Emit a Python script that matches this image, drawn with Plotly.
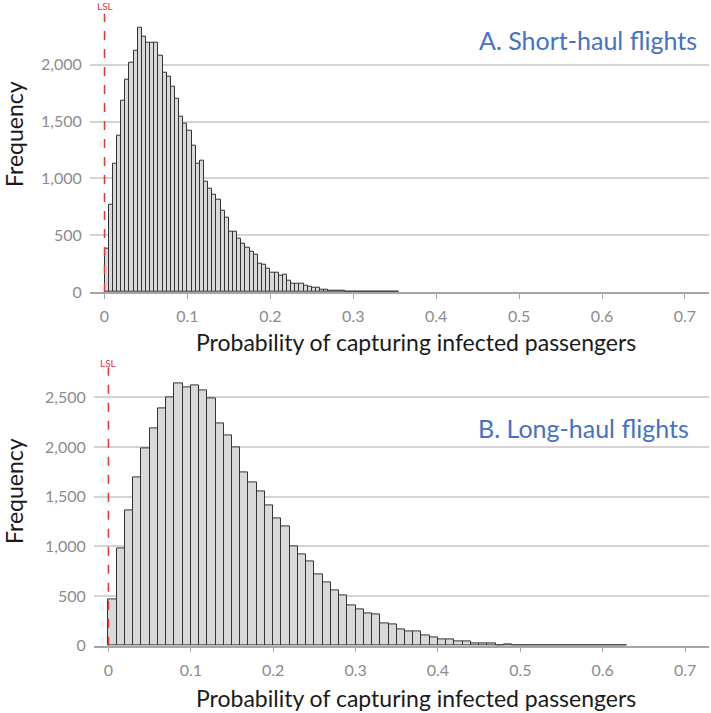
import plotly.graph_objects as go

# ---------- data ----------
# A. Short-haul flights: bins of width 0.005 starting at 0
short_bin_width = 0.005
short_counts = [384, 765, 1132, 1378, 1686, 1865, 2018, 2126, 2331, 2246,
                2196, 2199, 2193, 2076, 1927, 1897, 1803, 1698, 1540, 1480,
                1422, 1285, 1132, 1160, 970, 910, 861, 811, 720, 651,
                534, 534, 465, 427, 390, 357, 326, 248, 238, 208,
                166, 166, 141, 150, 96, 76, 72, 73, 53, 45,
                42, 39, 22, 19, 15, 13, 10, 8, 7, 6,
                5, 4, 4, 3, 3, 2, 2, 2, 1, 2, 2]

# B. Long-haul flights: bins of width 0.01 starting at 0
long_bin_width = 0.01
long_counts = [462, 979, 1357, 1696, 1984, 2185, 2389, 2503, 2641, 2594,
               2614, 2567, 2493, 2232, 2111, 1994, 1746, 1645, 1548, 1411,
               1277, 1196, 995, 915, 851, 720, 637, 553, 510, 402,
               368, 330, 310, 228, 211, 167, 143, 143, 105, 82,
               68, 65, 48, 41, 27, 24, 20, 8, 12, 4,
               3, 3, 2, 2, 2, 1, 1, 1, 1, 2, 2, 2, 6]

x_ticks = [0, 0.1, 0.2, 0.3, 0.4, 0.5, 0.6, 0.7]
x_tick_text = ["0", "0.1", "0.2", "0.3", "0.4", "0.5", "0.6", "0.7"]
top_y_ticks = [0, 500, 1000, 1500, 2000]
bottom_y_ticks = [0, 500, 1000, 1500, 2000, 2500]

x_title = "Probability of capturing infected passengers"
y_title = "Frequency"
title_a = "A. Short-haul flights"
title_b = "B. Long-haul flights"
lsl_label = "LSL"

# ---------- figure ----------
W, H = 711, 713
FONT = "Lato, 'Open Sans', sans-serif"
BAR_FILL = "#d9d9d9"
BAR_LINE = "#333333"
GRID = "#d4d4d4"
AXIS = "#a6a6a6"
TICKFONT = dict(family=FONT, size=16, color="#8c8c8c")
RED = "#e8333a"
BLUE = "#4472c4"

short_x = [short_bin_width * (i + 0.5) for i in range(len(short_counts))]
long_x = [long_bin_width * (i + 0.5) for i in range(len(long_counts))]

fig = go.Figure()
fig.add_trace(go.Bar(x=short_x, y=short_counts, width=short_bin_width,
                     marker=dict(color=BAR_FILL, line=dict(color=BAR_LINE, width=1)),
                     xaxis="x", yaxis="y", showlegend=False, hoverinfo="x+y"))
fig.add_trace(go.Bar(x=long_x, y=long_counts, width=long_bin_width,
                     marker=dict(color=BAR_FILL, line=dict(color=BAR_LINE, width=1)),
                     xaxis="x2", yaxis="y2", showlegend=False, hoverinfo="x+y"))


def px_x(p):
    return p / W


def px_y(p):
    return 1 - p / H


xaxis_common = dict(range=[-0.0175, 0.729], tickvals=x_ticks, ticktext=x_tick_text,
                    showgrid=False, zeroline=False, showline=True, automargin=False,
                    linecolor=AXIS, linewidth=1.5, ticks="outside", ticklen=5,
                    tickcolor=AXIS, tickwidth=1, tickfont=TICKFONT,
                    ticklabelstandoff=4)
yaxis_common = dict(showgrid=True, gridcolor=GRID, gridwidth=1.5, zeroline=False,
                    showline=False, ticks="outside", ticklen=4,
                    tickcolor="rgba(0,0,0,0)", tickformat=",d", tickfont=TICKFONT,
                    automargin=False)

fig.update_layout(
    width=W, height=H,
    template="none",
    margin=dict(l=0, r=0, t=0, b=0),
    plot_bgcolor="white", paper_bgcolor="white",
    bargap=0,
    xaxis=dict(domain=[px_x(90), px_x(709)], anchor="y", **xaxis_common),
    yaxis=dict(domain=[px_y(292), px_y(13.7)], anchor="x", range=[0, 2450],
               tickvals=top_y_ticks, **yaxis_common),
    xaxis2=dict(domain=[px_x(94), px_x(709)], anchor="y2", **xaxis_common),
    yaxis2=dict(domain=[px_y(645.7), px_y(367.4)], anchor="x2", range=[0, 2800],
                tickvals=bottom_y_ticks, **yaxis_common),
)

# LSL lines
for xr, yr in (("x", "y"), ("x2", "y2")):
    fig.add_shape(type="line", xref=xr, yref=yr + " domain", x0=0, x1=0, y0=0, y1=1,
                  line=dict(color=RED, width=1.5, dash="dash"))

annotations = [
    dict(text=lsl_label, xref="x", yref="paper", x=0, y=px_y(6), showarrow=False,
         font=dict(family=FONT, size=10, color=RED), xanchor="center", yanchor="middle"),
    dict(text=lsl_label, xref="x2", yref="paper", x=0, y=px_y(363), showarrow=False,
         font=dict(family=FONT, size=10, color=RED), xanchor="center", yanchor="middle"),
    dict(text=title_a, xref="paper", yref="paper", x=px_x(699), y=px_y(40), showarrow=False,
         font=dict(family=FONT, size=25, color=BLUE), xanchor="right", yanchor="middle"),
    dict(text=title_b, xref="paper", yref="paper", x=px_x(691), y=px_y(428), showarrow=False,
         font=dict(family=FONT, size=25, color=BLUE), xanchor="right", yanchor="middle"),
    dict(text=x_title, xref="paper", yref="paper", x=px_x(416), y=px_y(342), showarrow=False,
         font=dict(family=FONT, size=23, color="#1a1a1a"), xanchor="center", yanchor="middle"),
    dict(text=x_title, xref="paper", yref="paper", x=px_x(416), y=px_y(698), showarrow=False,
         font=dict(family=FONT, size=23, color="#1a1a1a"), xanchor="center", yanchor="middle"),
    dict(text=y_title, xref="paper", yref="paper", x=px_x(14), y=px_y(134), showarrow=False,
         textangle=-90, font=dict(family=FONT, size=23, color="#1a1a1a"),
         xanchor="center", yanchor="middle"),
    dict(text=y_title, xref="paper", yref="paper", x=px_x(14), y=px_y(491), showarrow=False,
         textangle=-90, font=dict(family=FONT, size=23, color="#1a1a1a"),
         xanchor="center", yanchor="middle"),
]
fig.update_layout(annotations=annotations)

# remove the default page margin so the figure sits at the window's top-left corner
fig.write_html("out.html", config={"displayModeBar": False},
               post_script="document.body.style.margin='0';document.body.style.padding='0';")
